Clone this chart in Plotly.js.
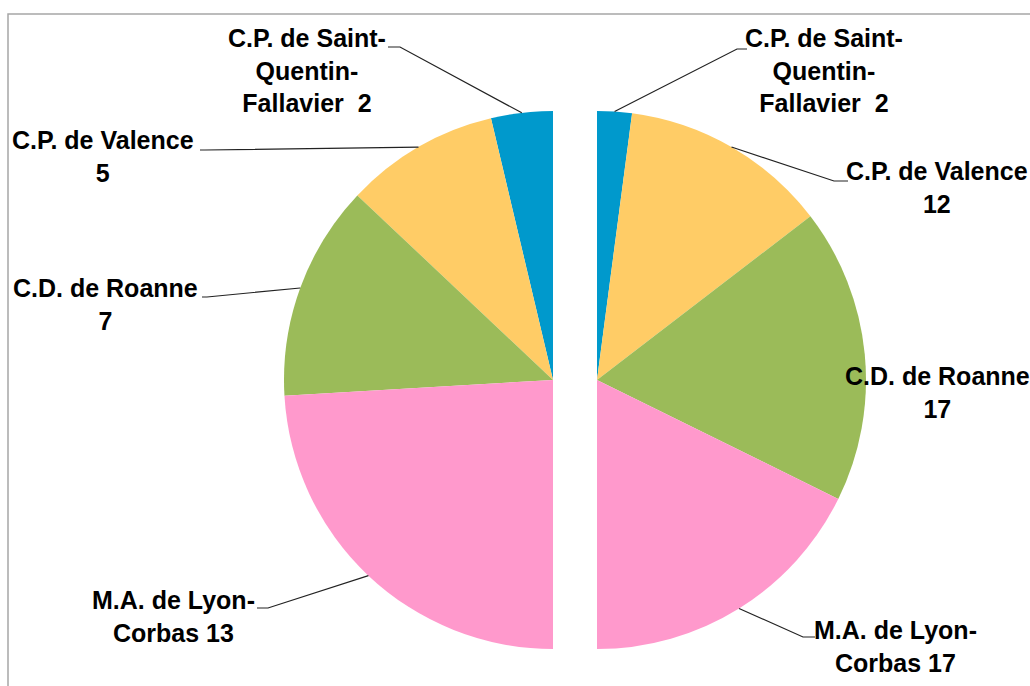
<!DOCTYPE html>
<html>
<head>
<meta charset="utf-8">
<script src="https://cdn.plot.ly/plotly-3.0.1.min.js"></script>
<style>html,body{margin:0;padding:0;background:#fff;}#chart{width:1030px;height:686px;}</style>
</head>
<body>
<div id="chart"></div>
<script>
// ---- data ----
const categories = ["C.P. de Saint-Quentin-Fallavier", "C.P. de Valence", "C.D. de Roanne", "M.A. de Lyon-Corbas"];
const leftValues = [2, 5, 7, 13];
const rightValues = [2, 12, 17, 17];
const colors = ["#0099cc", "#ffcc66", "#9bbb59", "#ff99cc"];
const leftLabelText = ["C.P. de Saint-<br>Quentin-<br>Fallavier\u00a0 ", "C.P. de Valence<br>", "C.D. de Roanne<br>", "M.A. de Lyon-<br>Corbas "];
const rightLabelText = ["C.P. de Saint-<br>Quentin-<br>Fallavier\u00a0 ", "C.P. de Valence<br>", "C.D. de Roanne<br>", "M.A. de Lyon-<br>Corbas "];

// ---- layout helpers (pixels -> paper) ----
const W = 1030, H = 686;
const px = x => x / W;
const py = y => 1 - y / H;
const R = 269, CY = 380, CXL = 553, CXR = 597;

function halfPie(values, cx, dir) {
  const total = values.reduce((a, b) => a + b, 0);
  // plotly's counterclockwise mode ends the first slice at the rotation angle; shift so it starts at 12 o'clock
  const rot = dir === "counterclockwise" ? -values[0] / (2 * total) * 360 : 0;
  return {
    type: "pie",
    values: values.concat([total]),
    labels: categories.concat(["hidden"]),
    sort: false,
    direction: dir,
    rotation: rot,
    textinfo: "none",
    hoverinfo: "skip",
    showlegend: false,
    marker: { colors: colors.concat(["rgba(0,0,0,0)"]), line: { width: 0 } },
    domain: { x: [px(cx - R), px(cx + R)], y: [py(CY + R), py(CY - R)] }
  };
}

function midPoints(values, cx, sign) {
  const total = values.reduce((a, b) => a + b, 0);
  let cum = 0;
  return values.map(v => {
    const th = (cum + v / 2) / total * Math.PI;
    cum += v;
    return [cx + sign * R * Math.sin(th), CY - R * Math.cos(th)];
  });
}

const leftMid = midPoints(leftValues, CXL, -1);
const rightMid = midPoints(rightValues, CXR, 1);

// label placement (pixels)
const leftLabelPos = [[307, 70], [103, 157], [105, 304], [173, 616]];
const rightLabelPos = [[824, 70], [937, 187], [937, 392], [895, 646]];
// leader elbows: [elbow, end] in pixels, null = no leader
const leftElbow = [[[400, 47], [388, 47]], [[205, 150], [200, 150]], [[207, 297], [202, 297]], [[268, 608], [257, 608]]];
const rightElbow = [[[737, 49], [747, 49]], [[834, 181], [848, 181]], null, [[803, 637], [815, 637]]];

const font = { family: "Liberation Sans Narrow, Arial Narrow, Liberation Sans, Arial, sans-serif", size: 25, color: "#000" };

const annotations = [];
const shapes = [];
function addLabels(values, texts, pos, mids, elbows) {
  values.forEach((v, i) => {
    annotations.push({
      xref: "paper", yref: "paper", x: px(pos[i][0]), y: py(pos[i][1]),
      xanchor: "center", yanchor: "middle", align: "center",
      showarrow: false, text: "<b>" + texts[i] + v + "</b>", font: font
    });
    if (elbows[i]) {
      const m = mids[i], e1 = elbows[i][0], e2 = elbows[i][1];
      shapes.push({
        type: "path", xref: "paper", yref: "paper",
        path: `M${px(m[0])},${py(m[1])} L${px(e1[0])},${py(e1[1])} L${px(e2[0])},${py(e2[1])}`,
        line: { color: "#222", width: 1.2 }
      });
    }
  });
}
addLabels(leftValues, leftLabelText, leftLabelPos, leftMid, leftElbow);
addLabels(rightValues, rightLabelText, rightLabelPos, rightMid, rightElbow);

// chart border
shapes.push({ type: "rect", xref: "paper", yref: "paper", x0: px(8), x1: px(1040), y0: py(696), y1: py(14), line: { color: "#a6a6a6", width: 1.5 } });

const data = [halfPie(leftValues, CXL, "counterclockwise"), halfPie(rightValues, CXR, "clockwise")];
const layout = {
  width: W, height: H,
  margin: { l: 0, r: 0, t: 0, b: 0 },
  paper_bgcolor: "#fff",
  showlegend: false,
  annotations: annotations,
  shapes: shapes
};
Plotly.newPlot("chart", data, layout, { staticPlot: true });
</script>
</body>
</html>
